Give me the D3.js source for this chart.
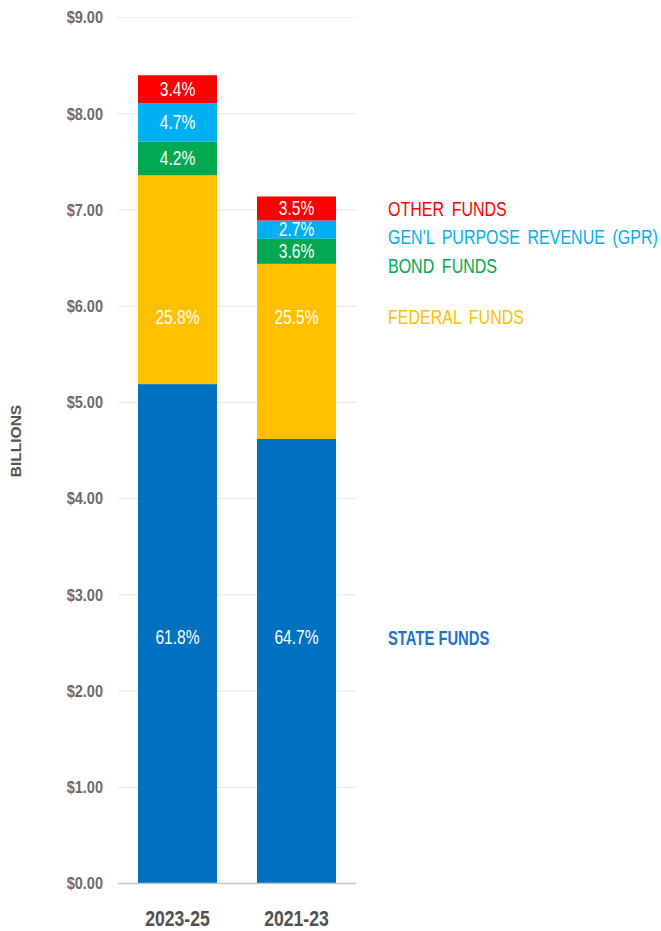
<!DOCTYPE html>
<html>
<head>
<meta charset="utf-8">
<script src="https://cdn.jsdelivr.net/npm/d3@7"></script>
<style>
  body { margin: 0; background: #fff; }
  text { font-family: "Liberation Sans", Arial, sans-serif; }
</style>
</head>
<body>
<script>
// biennium categories
const periods = ["2023-25", "2021-23"];
// fund sources, stacked bottom to top
const funds = ["State", "Federal", "Bond", "GPR", "Other"];
// dollar amounts in billions, one array per period
const state = [5.19, 4.62];
const federal = [2.17, 1.82];
const bond = [0.35, 0.26];
const gpr = [0.40, 0.19];
const other = [0.29, 0.25];
// percent labels shown in each segment
const statePct = ["61.8%", "64.7%"];
const federalPct = ["25.8%", "25.5%"];
const bondPct = ["4.2%", "3.6%"];
const gprPct = ["4.7%", "2.7%"];
const otherPct = ["3.4%", "3.5%"];
// legend text
const legendNames = ["STATE FUNDS", "FEDERAL FUNDS", "BOND FUNDS", "GEN'L PURPOSE REVENUE (GPR)", "OTHER FUNDS"];
const yTicks = [0, 1, 2, 3, 4, 5, 6, 7, 8, 9];

const colors = {State: "#0070c0", Federal: "#ffc000", Bond: "#00a84f", GPR: "#00b0f0", Other: "#ff0000"};
const legendColors = ["#1f73c4", "#ffc000", "#00a84f", "#00b0f0", "#ff0000"];

const width = 661, height = 931;
const svg = d3.select("body").append("svg")
  .attr("width", width)
  .attr("height", height);

// squeeze a text horizontally around its anchor (no narrow font installed)
function condensed(parent, px, py, sx) {
  return parent.append("text")
    .attr("transform", "translate(" + px + "," + py + ") scale(" + sx + ",1)");
}

// build table for the stack
const table = periods.map((p, i) => ({
  period: p,
  State: state[i], Federal: federal[i], Bond: bond[i], GPR: gpr[i], Other: other[i]
}));
const pcts = {State: statePct, Federal: federalPct, Bond: bondPct, GPR: gprPct, Other: otherPct};

const x = d3.scaleBand()
  .domain(periods)
  .range([118, 356])
  .paddingInner(0.336)
  .paddingOuter(0.168);

const y = d3.scaleLinear()
  .domain([0, 9])
  .range([883.5, 17.5]);

// gridlines
svg.append("g")
  .selectAll("line")
  .data(yTicks.filter(d => d > 0))
  .join("line")
    .attr("x1", 118)
    .attr("x2", 356)
    .attr("y1", d => y(d))
    .attr("y2", d => y(d))
    .attr("stroke", "#e6e3e3")
    .attr("stroke-width", 1)
    .attr("stroke-dasharray", d => d == 9 ? "2,2" : null);

// y axis labels
yTicks.forEach(t => {
  condensed(svg, 103, y(t), 0.88)
    .attr("text-anchor", "end")
    .attr("dominant-baseline", "central")
    .attr("font-size", 16.5)
    .attr("font-weight", "bold")
    .attr("fill", "#6b6b6b")
    .text("$" + d3.format(".2f")(t));
});

// stacked bars
const series = d3.stack().keys(funds)(table);

svg.append("g")
  .selectAll("g")
  .data(series)
  .join("g")
    .attr("fill", d => colors[d.key])
  .selectAll("rect")
  .data(d => d)
  .join("rect")
    .attr("x", d => x(d.data.period))
    .attr("y", d => y(d[1]))
    .attr("width", x.bandwidth())
    .attr("height", d => y(d[0]) - y(d[1]));

// baseline
svg.append("line")
  .attr("x1", 118)
  .attr("x2", 356)
  .attr("y1", y(0))
  .attr("y2", y(0))
  .attr("stroke", "#c8c8c8")
  .attr("stroke-width", 1.5);

// label y position: centered for small segments, fixed rows for state/federal
const labelRow = {State: 2.56, Federal: 5.88};
series.forEach(s => {
  s.forEach((d, i) => {
    let v = labelRow[s.key] != null ? labelRow[s.key] : (d[0] + d[1]) / 2;
    condensed(svg, x(d.data.period) + x.bandwidth() / 2, y(v), 0.78)
      .attr("text-anchor", "middle")
      .attr("dominant-baseline", "central")
      .attr("font-size", 20)
      .attr("fill", "white")
      .text(pcts[s.key][i]);
  });
});

// legend beside the bars
const legendRow = [2.55, 5.88, 6.41, 6.72, 7.01];
legendNames.forEach((name, i) => {
  condensed(svg, 388, y(legendRow[i]), i == 0 ? 0.74 : 0.8)
    .attr("dominant-baseline", "central")
    .attr("font-size", 20)
    .attr("font-weight", i == 0 ? "bold" : "normal")
    .attr("fill", legendColors[i])
    .style("word-spacing", i == 0 ? "0px" : "4px")
    .text(name);
});

// category labels
periods.forEach(p => {
  condensed(svg, x(p) + x.bandwidth() / 2, 918, 0.8)
    .attr("text-anchor", "middle")
    .attr("dominant-baseline", "central")
    .attr("font-size", 22)
    .attr("font-weight", "bold")
    .attr("fill", "#505050")
    .text(p);
});

// axis title
svg.append("text")
  .attr("transform", "translate(15, 441) rotate(-90)")
  .attr("text-anchor", "middle")
  .attr("dominant-baseline", "central")
  .attr("font-size", 15.5)
  .attr("font-weight", "bold")
  .attr("fill", "#555")
  .text("BILLIONS");
</script>
</body>
</html>
